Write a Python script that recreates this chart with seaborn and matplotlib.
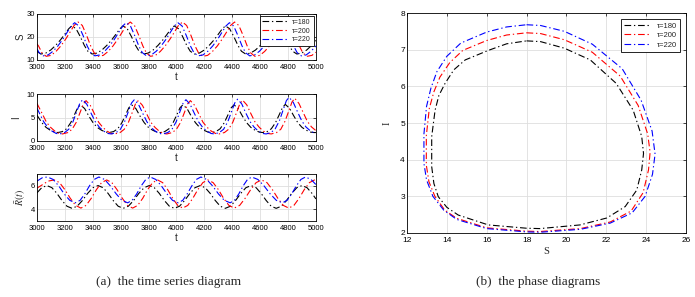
import matplotlib
matplotlib.use('Agg')
import matplotlib.pyplot as plt
import seaborn as sns

# ---- time series, S ----
t_s_180 = [3000, 3028, 3063, 3098, 3133, 3168, 3198, 3228,
           3250, 3280, 3310, 3340, 3365, 3395, 3430, 3465, 3500, 3535, 3565, 3595,
           3617, 3647, 3677, 3707, 3732, 3762, 3797, 3832, 3867, 3902, 3932, 3962,
           3984, 4014, 4044, 4074, 4099, 4129, 4164, 4199, 4234, 4269, 4299, 4329,
           4351, 4381, 4411, 4441, 4466, 4496, 4531, 4566, 4601, 4636, 4666, 4696,
           4718, 4748, 4778, 4808, 4833, 4863, 4898, 4933, 4968, 5000]
s_180 = [13.7, 12.6, 13.0, 14.3, 16.3, 18.7, 21.1, 23.6,
         24.8, 23.6, 20.2, 16.3, 13.8, 12.6, 13.0, 14.3, 16.3, 18.7, 21.1, 23.6,
         24.8, 23.6, 20.2, 16.3, 13.8, 12.6, 13.0, 14.3, 16.3, 18.7, 21.1, 23.6,
         24.8, 23.6, 20.2, 16.3, 13.8, 12.6, 13.0, 14.3, 16.3, 18.7, 21.1, 23.6,
         24.8, 23.6, 20.2, 16.3, 13.8, 12.6, 13.0, 14.3, 16.3, 18.7, 21.1, 23.6,
         24.8, 23.6, 20.2, 16.3, 13.8, 12.6, 13.0, 14.3, 16.3, 18.5]

t_s_200 = [3000, 3011, 3036, 3066, 3101, 3136, 3171, 3206, 3236, 3266,
           3295, 3325, 3355, 3385, 3410, 3440, 3475, 3510, 3545, 3580, 3610, 3640,
           3669, 3699, 3729, 3759, 3784, 3814, 3849, 3884, 3919, 3954, 3984, 4014,
           4043, 4073, 4103, 4133, 4158, 4188, 4223, 4258, 4293, 4328, 4358, 4388,
           4417, 4447, 4477, 4507, 4532, 4562, 4597, 4632, 4667, 4702, 4732, 4762,
           4791, 4821, 4851, 4881, 4906, 4936, 4971, 5000]
s_200 = [17.0, 16.1, 13.1, 11.6, 12.0, 13.7, 16.1, 19.1, 22.0, 25.0,
         26.5, 25.0, 20.8, 16.1, 13.1, 11.6, 12.0, 13.7, 16.1, 19.1, 22.0, 25.0,
         26.5, 25.0, 20.8, 16.1, 13.1, 11.6, 12.0, 13.7, 16.1, 19.1, 22.0, 25.0,
         26.5, 25.0, 20.8, 16.1, 13.1, 11.6, 12.0, 13.7, 16.1, 19.1, 22.0, 25.0,
         26.5, 25.0, 20.8, 16.1, 13.1, 11.6, 12.0, 13.7, 16.1, 19.1, 22.0, 25.0,
         26.5, 25.0, 20.8, 16.1, 13.1, 11.6, 12.0, 13.4]

t_s_220 = [3000, 3015, 3045, 3080, 3115, 3150, 3185, 3215, 3245,
           3270, 3300, 3330, 3360, 3385, 3415, 3450, 3485, 3520, 3555, 3585, 3615,
           3640, 3670, 3700, 3730, 3755, 3785, 3820, 3855, 3890, 3925, 3955, 3985,
           4010, 4040, 4070, 4100, 4125, 4155, 4190, 4225, 4260, 4295, 4325, 4355,
           4380, 4410, 4440, 4470, 4495, 4525, 4560, 4595, 4630, 4665, 4695, 4725,
           4750, 4780, 4810, 4840, 4865, 4895, 4930, 4965, 5000]
s_220 = [14.9, 13.2, 11.8, 12.2, 13.8, 16.1, 19.0, 21.9, 24.8,
         26.2, 24.8, 20.7, 16.1, 13.2, 11.8, 12.2, 13.8, 16.1, 19.0, 21.9, 24.8,
         26.2, 24.8, 20.7, 16.1, 13.2, 11.8, 12.2, 13.8, 16.1, 19.0, 21.9, 24.8,
         26.2, 24.8, 20.7, 16.1, 13.2, 11.8, 12.2, 13.8, 16.1, 19.0, 21.9, 24.8,
         26.2, 24.8, 20.7, 16.1, 13.2, 11.8, 12.2, 13.8, 16.1, 19.0, 21.9, 24.8,
         26.2, 24.8, 20.7, 16.1, 13.2, 11.8, 12.2, 13.8, 16.1]

# ---- time series, I ----
t_i_180 = [3000, 3035, 3065, 3095, 3125, 3150, 3182, 3212, 3242, 3272, 3292,
           3312, 3342, 3372, 3402, 3432, 3462, 3492, 3517, 3549, 3579, 3609, 3639, 3659,
           3679, 3709, 3739, 3769, 3799, 3829, 3859, 3884, 3916, 3946, 3976, 4006, 4026,
           4046, 4076, 4106, 4136, 4166, 4196, 4226, 4251, 4283, 4313, 4343, 4373, 4393,
           4413, 4443, 4473, 4503, 4533, 4563, 4593, 4618, 4650, 4680, 4710, 4740, 4760,
           4780, 4810, 4840, 4870, 4900, 4930, 4960, 4985, 5000]
i_180 = [5.5, 3.9, 2.9, 2.3, 1.9, 1.8, 2.0, 2.6, 3.9, 5.8, 7.1,
         7.7, 6.9, 5.3, 3.9, 2.9, 2.3, 1.9, 1.8, 2.0, 2.6, 3.9, 5.8, 7.1,
         7.7, 6.9, 5.3, 3.9, 2.9, 2.3, 1.9, 1.8, 2.0, 2.6, 3.9, 5.8, 7.1,
         7.7, 6.9, 5.3, 3.9, 2.9, 2.3, 1.9, 1.8, 2.0, 2.6, 3.9, 5.8, 7.1,
         7.7, 6.9, 5.3, 3.9, 2.9, 2.3, 1.9, 1.8, 2.0, 2.6, 3.9, 5.8, 7.1,
         7.8, 7.0, 5.4, 3.9, 2.9, 2.3, 1.9, 1.8, 1.8]

t_i_200 = [3000, 3038, 3068, 3098, 3128, 3158, 3183, 3222, 3252, 3282, 3312, 3332,
           3352, 3382, 3412, 3442, 3472, 3502, 3532, 3557, 3596, 3626, 3656, 3686, 3706,
           3726, 3756, 3786, 3816, 3846, 3876, 3906, 3931, 3970, 4000, 4030, 4060, 4080,
           4100, 4130, 4160, 4190, 4220, 4250, 4280, 4305, 4344, 4374, 4404, 4434, 4454,
           4474, 4504, 4534, 4564, 4594, 4624, 4654, 4679, 4718, 4748, 4778, 4808, 4828,
           4848, 4878, 4908, 4938, 4968, 5000]
i_200 = [8.0, 5.8, 4.0, 2.9, 2.1, 1.6, 1.5, 1.8, 2.5, 4.0, 6.3, 7.9,
         8.6, 7.6, 5.8, 4.0, 2.9, 2.1, 1.6, 1.5, 1.8, 2.5, 4.0, 6.3, 7.9,
         8.6, 7.6, 5.8, 4.0, 2.9, 2.1, 1.6, 1.5, 1.8, 2.5, 4.0, 6.3, 7.9,
         8.6, 7.6, 5.8, 4.0, 2.9, 2.1, 1.6, 1.5, 1.8, 2.5, 4.0, 6.3, 7.9,
         8.7, 7.7, 5.8, 4.0, 2.9, 2.1, 1.6, 1.5, 1.8, 2.5, 4.2, 6.6, 8.3,
         9.1, 8.0, 6.1, 4.2, 3.0, 2.2]

t_i_220 = [3000, 3018, 3048, 3078, 3108, 3138, 3163, 3198, 3228, 3258, 3288, 3308,
           3328, 3358, 3388, 3418, 3448, 3478, 3508, 3533, 3568, 3598, 3628, 3658, 3678,
           3698, 3728, 3758, 3788, 3818, 3848, 3878, 3903, 3938, 3968, 3998, 4028, 4048,
           4068, 4098, 4128, 4158, 4188, 4218, 4248, 4273, 4308, 4338, 4368, 4398, 4418,
           4438, 4468, 4498, 4528, 4558, 4588, 4618, 4643, 4678, 4708, 4738, 4768, 4788,
           4808, 4838, 4868, 4898, 4928, 4958, 4988, 5000]
i_220 = [7.0, 5.9, 4.1, 2.9, 2.1, 1.6, 1.5, 1.8, 2.5, 4.1, 6.5, 8.1,
         8.8, 7.8, 5.9, 4.1, 2.9, 2.1, 1.6, 1.5, 1.8, 2.5, 4.1, 6.5, 8.1,
         8.8, 7.8, 5.9, 4.1, 2.9, 2.1, 1.6, 1.5, 1.8, 2.5, 4.1, 6.5, 8.1,
         8.8, 7.8, 5.9, 4.1, 2.9, 2.1, 1.6, 1.5, 1.8, 2.5, 4.1, 6.5, 8.1,
         8.9, 7.9, 5.9, 4.1, 2.9, 2.1, 1.6, 1.5, 1.8, 2.6, 4.3, 6.9, 8.6,
         9.3, 8.2, 6.2, 4.3, 3.0, 2.2, 1.7, 1.6]

# ---- time series, R bar ----
t_r_180 = [3000, 3034, 3071, 3107, 3143, 3179, 3215, 3251, 3288, 3326, 3363, 3401, 3438,
           3474, 3510, 3546, 3582, 3618, 3655, 3693, 3730, 3768, 3805,
           3841, 3877, 3913, 3949, 3985, 4022, 4059, 4096, 4133, 4170,
           4206, 4242, 4278, 4314, 4350, 4387, 4424, 4461, 4498, 4535,
           4571, 4607, 4643, 4679, 4715, 4752, 4789, 4826, 4863, 4900,
           4936, 4972, 5000]
r_180 = [5.4, 5.84, 6.02,
         5.84, 5.35, 4.75, 4.26, 4.08, 4.26, 4.75, 5.35, 5.84, 6.02,
         5.84, 5.35, 4.75, 4.26, 4.08, 4.26, 4.75, 5.35, 5.84, 6.02,
         5.84, 5.35, 4.75, 4.26, 4.08, 4.26, 4.75, 5.35, 5.84, 6.02,
         5.84, 5.35, 4.75, 4.26, 4.08, 4.26, 4.75, 5.35, 5.84, 6.02,
         5.84, 5.35, 4.75, 4.26, 4.08, 4.26, 4.75, 5.35, 5.84, 6.02,
         5.84, 5.35, 4.88]

t_r_200 = [3000, 3040, 3080, 3124, 3162, 3200, 3239, 3277, 3315, 3352, 3389, 3426, 3463, 3500,
           3537, 3574, 3612, 3649, 3686, 3722, 3758, 3793, 3829, 3865,
           3901, 3937, 3973, 4009, 4045, 4081, 4117, 4153, 4189, 4225,
           4263, 4301, 4338, 4376, 4414, 4453, 4492, 4532, 4571, 4610,
           4649, 4688, 4727, 4766, 4805, 4842, 4879, 4916, 4953, 4990,
           5000]
r_200 = [5.8, 6.1, 6.4, 6.5,
         6.27, 5.67, 4.93, 4.33, 4.1, 4.33, 4.93, 5.67, 6.27, 6.5,
         6.27, 5.67, 4.93, 4.33, 4.1, 4.33, 4.93, 5.67, 6.27, 6.5,
         6.27, 5.67, 4.93, 4.33, 4.1, 4.33, 4.93, 5.67, 6.27, 6.5,
         6.27, 5.67, 4.93, 4.33, 4.1, 4.33, 4.93, 5.67, 6.27, 6.5,
         6.27, 5.67, 4.93, 4.33, 4.1, 4.33, 4.93, 5.67, 6.27, 6.5,
         6.49]

t_r_220 = [3000, 3040, 3076, 3116, 3156, 3195, 3235, 3275, 3309, 3343, 3376, 3410, 3444,
           3485, 3526, 3568, 3609, 3650, 3682, 3715, 3747, 3780, 3812,
           3852, 3892, 3932, 3972, 4012, 4045, 4077, 4110, 4142, 4175,
           4217, 4259, 4301, 4343, 4385, 4416, 4447, 4478, 4509, 4540,
           4584, 4628, 4672, 4716, 4760, 4793, 4826, 4859, 4892, 4925,
           4965, 5000]
r_220 = [6.4, 6.7, 6.75,
         6.54, 5.99, 5.31, 4.76, 4.55, 4.76, 5.31, 5.99, 6.54, 6.75,
         6.54, 5.99, 5.31, 4.76, 4.55, 4.76, 5.31, 5.99, 6.54, 6.75,
         6.54, 5.99, 5.31, 4.76, 4.55, 4.76, 5.31, 5.99, 6.54, 6.75,
         6.54, 5.99, 5.31, 4.76, 4.55, 4.76, 5.31, 5.99, 6.54, 6.75,
         6.54, 5.99, 5.31, 4.76, 4.55, 4.76, 5.31, 5.99, 6.54, 6.75,
         6.54, 6.1]

# ---- phase diagram (S, I) ----
ph_s_180 = [18.0, 18.7, 19.9, 21.2, 22.5, 23.35, 23.78, 23.87, 23.78, 23.53, 22.95, 22.03,
            20.68, 18.67, 18.0, 16.08, 14.57, 14.0, 13.57, 13.35, 13.24, 13.24, 13.41,
            13.6, 13.91, 14.35, 14.92, 16.08, 17.0, 18.0]
ph_i_180 = [7.24, 7.22, 7.04, 6.72, 6.08, 5.35, 4.63, 4.17, 3.72, 3.17, 2.72, 2.41,
            2.22, 2.12, 2.13, 2.22, 2.49, 2.7, 2.99, 3.35, 3.81, 4.63, 5.35,
            5.75, 6.08, 6.45, 6.72, 6.98, 7.16, 7.24]

ph_s_200 = [18.0, 18.7, 19.9, 21.3, 22.7, 23.6, 24.08, 24.2, 24.12, 23.85, 23.25, 22.2,
            20.7, 18.67, 18.0, 16.0, 14.5, 13.9, 13.4, 13.1, 12.97, 12.97, 13.12,
            13.35, 13.65, 14.15, 14.8, 16.0, 17.0, 18.0]
ph_i_200 = [7.46, 7.44, 7.27, 6.93, 6.28, 5.48, 4.7, 4.2, 3.72, 3.1, 2.6, 2.3,
            2.12, 2.04, 2.05, 2.14, 2.4, 2.62, 3.0, 3.4, 3.85, 4.65, 5.4,
            5.85, 6.25, 6.65, 6.98, 7.25, 7.4, 7.46]

ph_s_220 = [18.0, 18.7, 19.9, 21.3, 22.8, 23.75, 24.3, 24.45, 24.32, 23.95, 23.3, 22.2,
            20.7, 18.67, 18.0, 16.0, 14.5, 13.85, 13.3, 12.98, 12.85, 12.85, 12.98,
            13.2, 13.5, 14.0, 14.7, 16.0, 17.0, 18.0]
ph_i_220 = [7.68, 7.66, 7.5, 7.15, 6.48, 5.62, 4.78, 4.15, 3.6, 3.0, 2.55, 2.27,
            2.1, 2.02, 2.03, 2.12, 2.37, 2.62, 3.0, 3.45, 3.9, 4.7, 5.45,
            5.95, 6.4, 6.82, 7.18, 7.48, 7.62, 7.68]

labels = ['τ=180', 'τ=200', 'τ=220']
colors = ['black', 'red', 'blue']
t_ticks = [3000, 3200, 3400, 3600, 3800, 4000, 4200, 4400, 4600, 4800, 5000]

sns.set_style('whitegrid')
plt.rcParams['font.family'] = ['Liberation Sans', 'DejaVu Sans']
plt.rcParams['mathtext.fontset'] = 'stix'

DASHDOT = (0, (6, 2.5, 1.2, 2.5))


def style_ax(ax, xlim, ylim, xticks, yticks, fs):
    ax.set_facecolor('white')
    ax.set_xlim(*xlim)
    ax.set_ylim(*ylim)
    ax.set_xticks(xticks)
    ax.set_yticks(yticks)
    ax.grid(True, color='#dedede', lw=0.6)
    for sp in ax.spines.values():
        sp.set_visible(True)
        sp.set_color('black')
        sp.set_linewidth(0.6)
    ax.tick_params(direction='in', top=True, right=True, length=2, width=0.5,
                   labelsize=fs, pad=1.5, colors='black')
    ax.tick_params(axis='x', pad=2.8)


def draw(ax, xs, ys, with_label):
    for x, y, c, lab in zip(xs, ys, colors, labels):
        sns.lineplot(x=x, y=y, ax=ax, color=c, linestyle=DASHDOT, lw=0.8,
                     estimator=None, sort=False,
                     label=lab if with_label else None)


fig = plt.figure(figsize=(6.95, 2.97), dpi=100)

ax1 = fig.add_axes([0.0532, 0.798, 0.4014, 0.155])
draw(ax1, [t_s_180, t_s_200, t_s_220], [s_180, s_200, s_220], True)
style_ax(ax1, (3000, 5000), (10, 30), t_ticks, [10, 20, 30], 5.5)
ax1.set_ylabel('S', fontsize=7, labelpad=1)
ax1.set_xlabel('t', fontsize=7, labelpad=1)
ax1.legend(loc='upper right', fontsize=5, handlelength=3.5, frameon=True, fancybox=False,
           edgecolor='black', framealpha=1, borderpad=0.4, labelspacing=0.25,
           borderaxespad=0.3).get_frame().set_linewidth(0.6)

ax2 = fig.add_axes([0.0532, 0.5253, 0.4014, 0.158])
draw(ax2, [t_i_180, t_i_200, t_i_220], [i_180, i_200, i_220], False)
style_ax(ax2, (3000, 5000), (0, 10), t_ticks, [0, 5, 10], 5.5)
ax2.set_ylabel('I', fontsize=7, labelpad=4)
ax2.set_xlabel('t', fontsize=7, labelpad=1)

ax3 = fig.add_axes([0.0532, 0.2559, 0.4014, 0.158])
draw(ax3, [t_r_180, t_r_200, t_r_220], [r_180, r_200, r_220], False)
style_ax(ax3, (3000, 5000), (3, 7), t_ticks, [4, 6], 5.5)
ax3.set_ylabel(r'$\bar{R}(t)$', fontsize=7, labelpad=2)
ax3.set_xlabel('t', fontsize=7, labelpad=1)

ax4 = fig.add_axes([0.5856, 0.2155, 0.4014, 0.7407])
draw(ax4, [ph_s_180, ph_s_200, ph_s_220], [ph_i_180, ph_i_200, ph_i_220], True)
style_ax(ax4, (12, 26), (2, 8), list(range(12, 27, 2)), list(range(2, 9)), 6)
ax4.set_xlabel('S', fontsize=7.5, family='Liberation Serif', labelpad=2)
ax4.set_ylabel('I', fontsize=7.5, family='Liberation Serif', labelpad=6)
ax4.legend(loc='upper right', fontsize=5.5, handlelength=3.5, frameon=True, fancybox=False,
           edgecolor='black', framealpha=1, borderpad=0.4, labelspacing=0.3,
           borderaxespad=0.8).get_frame().set_linewidth(0.6)

fig.text(0.242, 0.04, '(a)  the time series diagram', ha='center', fontsize=9.5,
         family='Liberation Serif')
fig.text(0.774, 0.04, '(b)  the phase diagrams', ha='center', fontsize=9.5,
         family='Liberation Serif')

fig.savefig('out.png', dpi=100, facecolor='white')
